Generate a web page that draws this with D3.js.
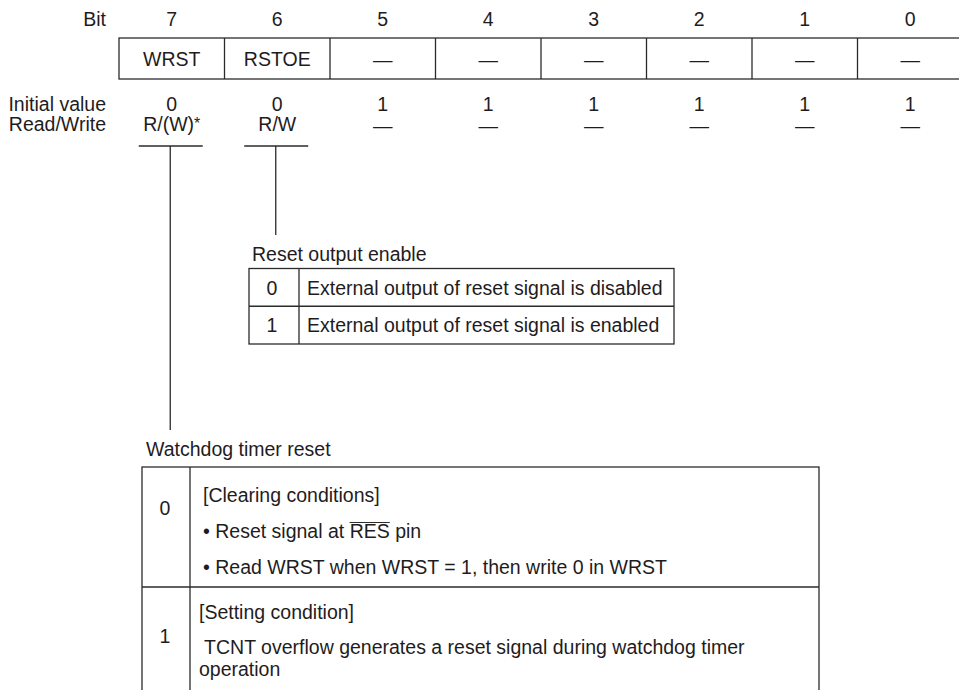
<!DOCTYPE html>
<html>
<head>
<meta charset="utf-8">
<script src="https://cdn.jsdelivr.net/npm/d3@7"></script>
<style>
  html, body { margin: 0; padding: 0; background: #fff; }
  svg text { font-family: "Liberation Sans", Arial, Helvetica, sans-serif; font-size: 19.5px; fill: #1f1c1d; }
</style>
</head>
<body>
<div id="vis"></div>
<script>
// register bits, left to right
const bits = [7, 6, 5, 4, 3, 2, 1, 0];
const bitNames = ['WRST', 'RSTOE', '—', '—', '—', '—', '—', '—'];
const initValues = ['0', '0', '1', '1', '1', '1', '1', '1'];
const rwValues = ['R/(W)', 'R/W', '—', '—', '—', '—', '—', '—'];
const rwNote = ['*', '', '', '', '', '', '', ''];

// bit descriptions
const rstoeTitle = 'Reset output enable';
const rstoeRows = [
  { value: '0', text: 'External output of reset signal is disabled' },
  { value: '1', text: 'External output of reset signal is enabled' }
];

const wrstTitle = 'Watchdog timer reset';
const wrstRows = [
  { value: '0', lines: ['[Clearing conditions]', '• Reset signal at |RES| pin', '• Read WRST when WRST = 1, then write 0 in WRST'] },
  { value: '1', lines: ['[Setting condition]', ' TCNT overflow generates a reset signal during watchdog timer', 'operation'] }
];

const W = 959, H = 690;
const ink = '#2b2b2b';

const $svg = d3.select('#vis').append('svg')
  .attr('width', W)
  .attr('height', H);

const x = d3.scaleBand()
  .domain(bits)
  .range([119, 963])
  .padding(0);

const cx = b => x(b) + x.bandwidth() / 2;

// row labels
const rowLabels = [
  { text: 'Bit', y: 25.5 },
  { text: 'Initial value', y: 111 },
  { text: 'Read/Write', y: 131 }
];
$svg.append('g').selectAll('text')
  .data(rowLabels)
  .join('text')
  .attr('x', 106)
  .attr('y', d => d.y)
  .attr('text-anchor', 'end')
  .text(d => d.text);

// bit numbers
$svg.append('g').selectAll('text')
  .data(bits)
  .join('text')
  .attr('x', d => cx(d))
  .attr('y', 25.5)
  .attr('text-anchor', 'middle')
  .text(d => d);

// register box
const boxTop = 38, boxBot = 79;
const $reg = $svg.append('g');
$reg.append('rect')
  .attr('x', x(bits[0]))
  .attr('y', boxTop)
  .attr('width', x.bandwidth() * bits.length)
  .attr('height', boxBot - boxTop)
  .attr('fill', 'none')
  .attr('stroke', ink)
  .attr('stroke-width', 1.3);
$reg.selectAll('line')
  .data(bits.slice(1))
  .join('line')
  .attr('x1', d => x(d)).attr('x2', d => x(d))
  .attr('y1', boxTop).attr('y2', boxBot)
  .attr('stroke', ink)
  .attr('stroke-width', 1.3);
$reg.selectAll('text')
  .data(bits)
  .join('text')
  .attr('x', d => cx(d))
  .attr('y', (d, i) => bitNames[i] === '—' ? 67 : 66)
  .attr('text-anchor', 'middle')
  .text((d, i) => bitNames[i]);

// initial values
$svg.append('g').selectAll('text')
  .data(bits)
  .join('text')
  .attr('x', d => cx(d))
  .attr('y', 111)
  .attr('text-anchor', 'middle')
  .text((d, i) => initValues[i]);

// read/write
const $rw = $svg.append('g').selectAll('text')
  .data(bits)
  .join('text')
  .attr('x', d => cx(d))
  .attr('y', (d, i) => rwValues[i] === '—' ? 133 : 131)
  .attr('text-anchor', 'middle');
$rw.append('tspan').text((d, i) => rwValues[i]);
$rw.append('tspan')
  .attr('font-size', 16)
  .attr('dy', -2)
  .text((d, i) => rwNote[i]);

// leader lines from WRST and RSTOE
const leaders = [
  { bit: 7, yEnd: 430 },
  { bit: 6, yEnd: 235 }
];
const $lead = $svg.append('g')
  .attr('stroke', ink)
  .attr('stroke-width', 1.3);
$lead.selectAll('line.under')
  .data(leaders)
  .join('line')
  .attr('class', 'under')
  .attr('x1', d => cx(d.bit) - 33).attr('x2', d => cx(d.bit) + 31)
  .attr('y1', 146).attr('y2', 146);
$lead.selectAll('line.down')
  .data(leaders)
  .join('line')
  .attr('class', 'down')
  .attr('x1', d => cx(d.bit) - 1.5).attr('x2', d => cx(d.bit) - 1.5)
  .attr('y1', 146).attr('y2', d => d.yEnd);

// RSTOE table
const t1 = { x: 249, y: 268.5, w: 425, colW: 50, rowH: 37.75 };
const $t1 = $svg.append('g');
$t1.append('text')
  .attr('x', t1.x + 3)
  .attr('y', 261)
  .text(rstoeTitle);
$t1.append('rect')
  .attr('x', t1.x).attr('y', t1.y)
  .attr('width', t1.w).attr('height', t1.rowH * rstoeRows.length)
  .attr('fill', 'none').attr('stroke', ink).attr('stroke-width', 1.3);
$t1.append('line')
  .attr('x1', t1.x + t1.colW).attr('x2', t1.x + t1.colW)
  .attr('y1', t1.y).attr('y2', t1.y + t1.rowH * rstoeRows.length)
  .attr('stroke', ink).attr('stroke-width', 1.3);
$t1.selectAll('line.row')
  .data(rstoeRows.slice(1))
  .join('line')
  .attr('class', 'row')
  .attr('x1', t1.x).attr('x2', t1.x + t1.w)
  .attr('y1', (d, i) => t1.y + t1.rowH * (i + 1))
  .attr('y2', (d, i) => t1.y + t1.rowH * (i + 1))
  .attr('stroke', ink).attr('stroke-width', 1.3);
$t1.selectAll('text.v')
  .data(rstoeRows)
  .join('text')
  .attr('class', 'v')
  .attr('x', t1.x + t1.colW / 2 - 2)
  .attr('y', (d, i) => t1.y + t1.rowH * i + 26)
  .attr('text-anchor', 'middle')
  .text(d => d.value);
$t1.selectAll('text.d')
  .data(rstoeRows)
  .join('text')
  .attr('class', 'd')
  .attr('x', t1.x + t1.colW + 8)
  .attr('y', (d, i) => t1.y + t1.rowH * i + 26)
  .text(d => d.text);

// WRST table
const t2 = { x: 142, y: 467, w: 677, colW: 48, rowH: [120, 130] };
const lineY = [[35, 71, 107], [32, 67, 89]];
const valY = [48, 56];
const rowTop = i => t2.y + d3.sum(t2.rowH.slice(0, i));
const $t2 = $svg.append('g');
$t2.append('text')
  .attr('x', t2.x + 4)
  .attr('y', 456)
  .text(wrstTitle);
$t2.append('rect')
  .attr('x', t2.x).attr('y', t2.y)
  .attr('width', t2.w).attr('height', d3.sum(t2.rowH))
  .attr('fill', 'none').attr('stroke', ink).attr('stroke-width', 1.3);
$t2.append('line')
  .attr('x1', t2.x + t2.colW).attr('x2', t2.x + t2.colW)
  .attr('y1', t2.y).attr('y2', t2.y + d3.sum(t2.rowH))
  .attr('stroke', ink).attr('stroke-width', 1.3);
$t2.append('line')
  .attr('x1', t2.x).attr('x2', t2.x + t2.w)
  .attr('y1', rowTop(1)).attr('y2', rowTop(1))
  .attr('stroke', ink).attr('stroke-width', 1.3);

wrstRows.forEach((row, i) => {
  $t2.append('text')
    .attr('x', t2.x + t2.colW / 2 - 1)
    .attr('y', rowTop(i) + valY[i])
    .attr('text-anchor', 'middle')
    .text(row.value);

  $t2.selectAll(`text.l${i}`)
    .data(row.lines)
    .join('text')
    .attr('class', `l${i}`)
    .attr('x', t2.x + t2.colW + (i === 0 ? 13 : 9))
    .attr('y', (d, j) => rowTop(i) + lineY[i][j])
    .attr('xml:space', 'preserve')
    .style('white-space', 'pre')
    .each(function(d) {
      const $t = d3.select(this);
      const parts = d.split('|');
      parts.forEach((p, k) => $t.append('tspan').attr('class', k % 2 ? 'bar' : null).text(p));
    });
});

// overbar on RES
$t2.selectAll('tspan.bar').each(function() {
  const textNode = this.parentNode;
  const full = textNode.textContent;
  const start = full.indexOf(this.textContent);
  const x0 = textNode.getStartPositionOfChar(start).x;
  const x1 = textNode.getEndPositionOfChar(start + this.textContent.length - 1).x;
  const y = +d3.select(textNode).attr('y') - 15.5;
  $t2.append('line')
    .attr('x1', x0).attr('x2', x1)
    .attr('y1', y).attr('y2', y)
    .attr('stroke', ink).attr('stroke-width', 1.1);
});
</script>
</body>
</html>
